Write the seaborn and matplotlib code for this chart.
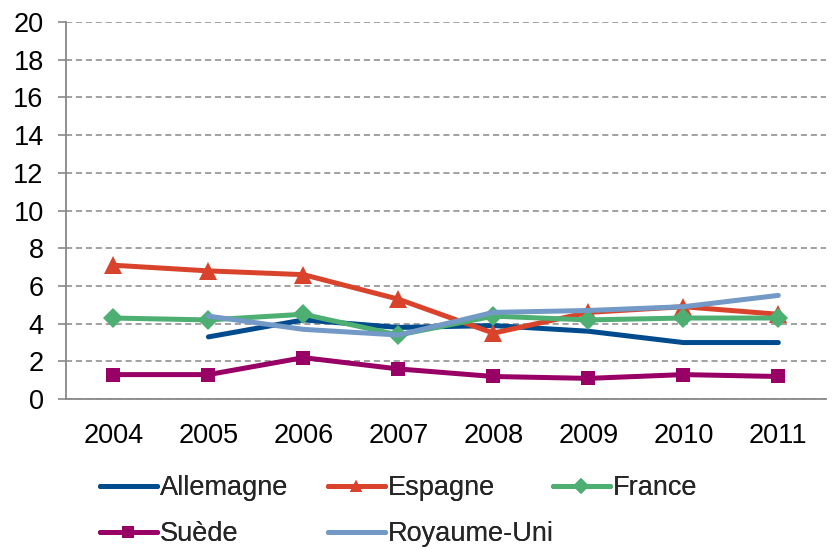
import numpy as np
import pandas as pd
import matplotlib
matplotlib.use("Agg")
import matplotlib.pyplot as plt
import seaborn as sns

years = ["2004", "2005", "2006", "2007", "2008", "2009", "2010", "2011"]
allemagne = [np.nan, 3.3, 4.2, 3.8, 3.9, 3.6, 3.0, 3.0]
espagne = [7.1, 6.8, 6.6, 5.3, 3.5, 4.6, 4.9, 4.5]
france = [4.3, 4.2, 4.5, 3.4, 4.4, 4.2, 4.3, 4.3]
suede = [1.3, 1.3, 2.2, 1.6, 1.2, 1.1, 1.3, 1.2]
royaume_uni = [np.nan, 4.4, 3.7, 3.4, 4.6, 4.7, 4.9, 5.5]
y_ticks = [0, 2, 4, 6, 8, 10, 12, 14, 16, 18, 20]

series = [
    ("Allemagne", allemagne, "#004B8D", None, 0),
    ("Espagne", espagne, "#D9432B", "^", 13),
    ("France", france, "#4DAF72", "D", 10.5),
    ("Suède", suede, "#990066", "s", 10.5),
    ("Royaume-Uni", royaume_uni, "#7399C6", None, 0),
]

sns.set_theme(style="white")
plt.rcParams["font.family"] = ["Liberation Sans", "DejaVu Sans"]

fig = plt.figure(figsize=(8.35, 5.49), dpi=100)
ax = fig.add_axes([0.079, 0.273, 0.91, 0.687])

xpos = np.arange(len(years))
handles = {}
for name, vals, color, mk, ms in series:
    df = pd.DataFrame({"x": xpos, "y": vals}).dropna()
    kw = dict(marker=mk, markersize=ms, markeredgewidth=0) if mk else {}
    sns.lineplot(data=df, x="x", y="y", ax=ax, color=color, linewidth=3.6,
                 label=name, legend=False, **kw)
    handles[name] = ax.lines[-1]

ax.set_xlim(-0.5, len(years) - 0.5)
ax.set_ylim(0, 20)
ax.set_yticks(y_ticks)
ax.set_yticklabels([str(t) for t in y_ticks])
ax.set_xticks(xpos)
ax.set_xticklabels(years)
ax.set_xticks(np.arange(-0.5, len(years), 1.0), minor=True)
ax.tick_params(axis="x", which="major", length=0, pad=17, labelsize=19.5, colors="black")
ax.tick_params(axis="x", which="minor", length=6, width=1.2, color="#888888", direction="out")
ax.tick_params(axis="y", which="major", length=6, width=1.2, color="#888888",
               direction="out", labelsize=19.5, pad=10, labelcolor="black", left=True)
ax.set_xlabel("")
ax.set_ylabel("")

ax.yaxis.grid(True, linestyle=(0, (4, 2.5)), color="#888888", linewidth=1.1)
ax.xaxis.grid(False)
for s in ["top", "right"]:
    ax.spines[s].set_visible(False)
for s in ["left", "bottom"]:
    ax.spines[s].set_color("#888888")
    ax.spines[s].set_linewidth(1.3)
ax.set_axisbelow(True)

# legend entries placed like the original (3 per row)
W, H = 835.0, 549.0
positions = {
    "Allemagne": (100, 488),
    "Espagne": (328, 488),
    "France": (553, 488),
    "Suède": (100, 534),
    "Royaume-Uni": (328, 534),
}
for name, (px, py) in positions.items():
    h = handles[name]
    leg = fig.legend([h], [name], loc="center left",
                     bbox_to_anchor=(px / W, 1 - py / H),
                     frameon=False, fontsize=19.5, handlelength=2.1,
                     handletextpad=0.1, borderaxespad=0, borderpad=0)
    for lh in leg.legend_handles:
        lh.set_markersize(8)
    fig.add_artist(leg)

fig.savefig("out.png", dpi=100)
